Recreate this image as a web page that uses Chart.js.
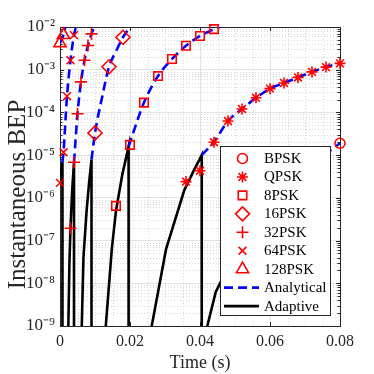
<!DOCTYPE html>
<html>
<head>
<meta charset="utf-8">
<script src="https://cdn.jsdelivr.net/npm/chart.js@4.4.1/dist/chart.umd.min.js"></script>
<style>
  html, body { margin: 0; padding: 0; background: #fff; }
</style>
</head>
<body>
<canvas id="bep" width="374" height="374"></canvas>
<script>
// axis ticks
const xTicks = [0, 0.02, 0.04, 0.06, 0.08]
const xTickLabels = ['0', '0.02', '0.04', '0.06', '0.08']
const yTicks = [1e-9, 1e-8, 1e-7, 1e-6, 1e-5, 1e-4, 1e-3, 1e-2]
const yTickLabels = ['10⁻⁹', '10⁻⁸', '10⁻⁷', '10⁻⁶', '10⁻⁵', '10⁻⁴', '10⁻³', '10⁻²']
const yTitle = 'Instantaneous BEP'

// simulated BEP markers (time in s)
const bpskT = [0.08]
const bpskSim = [1.9e-5]
const qpskT = [0.036, 0.040, 0.044, 0.048, 0.052, 0.056, 0.060, 0.064, 0.068, 0.072, 0.076, 0.080]
const qpskSim = [2.4e-6, 4.3e-6, 2.0e-5, 6.3e-5, 1.2e-4, 2.2e-4, 3.6e-4, 4.9e-4, 6.6e-4, 8.9e-4, 1.15e-3, 1.41e-3]
const psk8T = [0.016, 0.020, 0.024, 0.028, 0.032, 0.036, 0.040, 0.044]
const psk8Sim = [6.5e-7, 1.74e-5, 1.7e-4, 7.1e-4, 1.78e-3, 3.63e-3, 6.17e-3, 8.9e-3]
const psk16T = [0.010, 0.014, 0.018]
const psk16Sim = [3.3e-5, 1.17e-3, 5.75e-3]
const psk32T = [0.003, 0.004, 0.005, 0.006, 0.007, 0.008, 0.009]
const psk32Sim = [1.95e-7, 6.8e-6, 9.3e-5, 5.2e-4, 1.66e-3, 3.7e-3, 6.9e-3]
const psk64T = [0, 0.001, 0.002, 0.003, 0.004]
const psk64Sim = [2.24e-6, 1.17e-5, 2.4e-4, 1.66e-3, 6.45e-3]
const psk128T = [0, 0.001]
const psk128Sim = [4.2e-3, 6.5e-3]

// analytical curves, shown above the switching point
const an128T = [0, 0.001, 0.0016]
const an128 = [4.2e-3, 6.5e-3, 1.1e-2]
const an64T = [0.0007, 0.001, 0.002, 0.003, 0.004, 0.0047]
const an64 = [6.8e-6, 1.17e-5, 2.4e-4, 1.66e-3, 6.45e-3, 1.1e-2]
const an32T = [0.004, 0.005, 0.006, 0.007, 0.008, 0.009, 0.0099]
const an32 = [6.8e-6, 9.3e-5, 5.2e-4, 1.66e-3, 3.7e-3, 6.9e-3, 1.05e-2]
const an16T = [0.009, 0.010, 0.012, 0.014, 0.016, 0.018, 0.0202]
const an16 = [7.9e-6, 3.3e-5, 2.2e-4, 1.17e-3, 2.7e-3, 5.75e-3, 1.05e-2]
const an8T = [0.0196, 0.024, 0.028, 0.032, 0.036, 0.040, 0.044, 0.0465]
const an8 = [1.6e-5, 1.7e-4, 7.1e-4, 1.78e-3, 3.63e-3, 6.17e-3, 8.9e-3, 1.08e-2]
const anQT = [0.0405, 0.044, 0.048, 0.052, 0.056, 0.060, 0.064, 0.068, 0.072, 0.076, 0.080]
const anQ = [1.0e-5, 2.04e-5, 6.3e-5, 1.2e-4, 2.2e-4, 3.6e-4, 4.9e-4, 6.6e-4, 8.9e-4, 1.15e-3, 1.41e-3]
const anBT = [0.0755, 0.080]
const anB = [1.0e-5, 1.9e-5]

// adaptive scheme, null = gap between modulation switches
const adaptiveT = [
  0, 0.0007, 0.0007, 0.0007,
  0.0023, 0.0027, 0.0030, 0.0035, 0.0040, 0.0040, 0.0040,
  0.0061, 0.0067, 0.0076, 0.0083, 0.0090, 0.0090, 0.0090,
  0.0127, 0.0148, 0.0160, 0.0178, 0.0196, 0.0196, 0.0196,
  0.0253, 0.0303, 0.0355, 0.0380, 0.0405, 0.0405, 0.0405,
  0.0406, 0.0445, 0.050, 0.060, 0.070, 0.0755
]
const adaptiveBep = [
  2.24e-6, 6.8e-6, 1e-13, null,
  4e-10, 3.2e-8, 2e-7, 1.6e-6, 6.8e-6, 1e-13, null,
  4e-10, 4e-8, 5e-7, 2.2e-6, 7.9e-6, 1e-13, null,
  4e-10, 6.3e-8, 5e-7, 3.5e-6, 1.6e-5, 1e-13, null,
  4e-10, 6.3e-8, 1.5e-6, 4e-6, 1e-5, 1e-13, null,
  3.2e-10, 6.3e-9, 5e-8, 7.9e-7, 4.5e-6, 1e-5
]

const SERIF = "'Liberation Serif', 'Times New Roman', serif"
const AXIS_COLOR = '#262626'
const RED = '#ff0000'

const toPoints = (ts, vs) => ts.map((t, i) => ({ x: t, y: vs[i] }))

function markerSet (label, ts, vs, style, radius) {
  return {
    label: label,
    data: toPoints(ts, vs),
    showLine: false,
    pointStyle: style,
    pointRadius: radius,
    pointBorderColor: RED,
    pointBackgroundColor: 'rgba(0,0,0,0)',
    pointBorderWidth: 1.6,
    clip: false
  }
}

function analyticalSet (ts, vs) {
  return {
    label: 'Analytical',
    data: toPoints(ts, vs),
    borderColor: '#0000ff',
    borderWidth: 2.6,
    borderDash: [9, 5],
    pointRadius: 0,
    cubicInterpolationMode: 'monotone',
    clip: 0
  }
}

const markerSets = [
  markerSet('BPSK', bpskT, bpskSim, 'circle', 5),
  markerSet('QPSK', qpskT, qpskSim, 'star', 5.5),
  markerSet('8PSK', psk8T, psk8Sim, 'rect', 6),
  markerSet('16PSK', psk16T, psk16Sim, 'rectRot', 7),
  markerSet('32PSK', psk32T, psk32Sim, 'cross', 6),
  markerSet('64PSK', psk64T, psk64Sim, 'crossRot', 5.5),
  markerSet('128PSK', psk128T, psk128Sim, 'triangle', 7)
]

const adaptiveSet = {
  label: 'Adaptive',
  data: toPoints(adaptiveT, adaptiveBep),
  borderColor: '#000000',
  borderWidth: 2.6,
  pointRadius: 0,
  tension: 0,
  spanGaps: false,
  clip: 0
}

const datasets = [
  ...markerSets,
  analyticalSet(an128T, an128),
  analyticalSet(an64T, an64),
  analyticalSet(an32T, an32),
  analyticalSet(an16T, an16),
  analyticalSet(an8T, an8),
  analyticalSet(anQT, anQ),
  analyticalSet(anBT, anB),
  adaptiveSet
]

// MATLAB like box, minor grid and inward ticks
const matlabFrame = {
  id: 'matlabFrame',
  beforeDatasetsDraw (chart) {
    const { ctx, chartArea: a } = chart
    const xs = chart.scales.x
    const ys = chart.scales.y
    ctx.save()
    // minor grid, dotted
    ctx.strokeStyle = '#d8d8d8'
    ctx.lineWidth = 1
    ctx.setLineDash([1, 2])
    for (let e = -9; e < -2; e++) {
      for (let k = 2; k < 10; k++) {
        const py = Math.round(ys.getPixelForValue(k * Math.pow(10, e))) + 0.5
        ctx.beginPath(); ctx.moveTo(a.left, py); ctx.lineTo(a.right, py); ctx.stroke()
      }
    }
    for (let i = 1; i < 16; i++) {
      if (i % 4 === 0) continue
      const px = Math.round(xs.getPixelForValue(i * 0.005)) + 0.5
      ctx.beginPath(); ctx.moveTo(px, a.top); ctx.lineTo(px, a.bottom); ctx.stroke()
    }
    ctx.setLineDash([])
    // ticks
    ctx.strokeStyle = AXIS_COLOR
    for (let e = -9; e < -1; e++) {
      for (let k = 1; k < 10; k++) {
        if (e === -2 && k > 1) break
        const len = k === 1 ? 4 : 2.5
        const py = Math.round(ys.getPixelForValue(k * Math.pow(10, e))) + 0.5
        ctx.beginPath()
        ctx.moveTo(a.left, py); ctx.lineTo(a.left + len, py)
        ctx.moveTo(a.right, py); ctx.lineTo(a.right - len, py)
        ctx.stroke()
      }
    }
    xTicks.forEach(v => {
      const px = Math.round(xs.getPixelForValue(v)) + 0.5
      ctx.beginPath()
      ctx.moveTo(px, a.bottom); ctx.lineTo(px, a.bottom - 4)
      ctx.moveTo(px, a.top); ctx.lineTo(px, a.top + 4)
      ctx.stroke()
    })
    // box
    ctx.strokeRect(Math.round(a.left) + 0.5, Math.round(a.top) + 0.5, Math.round(a.right - a.left), Math.round(a.bottom - a.top))
    ctx.restore()
  },
  afterDraw (chart) {
    // y label sits a little below the axis centre in the original
    const ctx = chart.ctx
    const a = chart.chartArea
    ctx.save()
    ctx.translate(18, (a.top + a.bottom) / 2 + 18)
    ctx.rotate(-Math.PI / 2)
    ctx.font = '25px ' + SERIF
    ctx.fillStyle = AXIS_COLOR
    ctx.textAlign = 'center'
    ctx.textBaseline = 'middle'
    ctx.fillText(yTitle, 0, 0)
    ctx.restore()
  }
}

// legend box in the lower right corner of the axes
const bepLegend = {
  id: 'bepLegend',
  afterDraw (chart) {
    const ctx = chart.ctx
    const a = chart.chartArea
    const boxW = 110
    const boxH = 169
    const bx = Math.round(a.right - 10 - boxW) + 0.5
    const by = Math.round(a.bottom - 11 - boxH) + 0.5
    const rowH = 18.45
    const symX = bx + 22
    const textX = bx + 43.5
    ctx.save()
    ctx.fillStyle = '#ffffff'
    ctx.fillRect(bx, by, boxW, boxH)
    ctx.strokeStyle = AXIS_COLOR
    ctx.lineWidth = 1
    ctx.strokeRect(bx, by, boxW, boxH)
    ctx.font = '15px ' + SERIF
    ctx.textBaseline = 'middle'
    ctx.textAlign = 'left'
    const rows = [...markerSets, datasets[markerSets.length], adaptiveSet]
    rows.forEach((ds, i) => {
      const cy = by + 12 + i * rowH
      ctx.save()
      if (ds.showLine === false) {
        ctx.strokeStyle = ds.pointBorderColor
        ctx.fillStyle = 'rgba(0,0,0,0)'
        ctx.lineWidth = ds.pointBorderWidth
        if (Chart.helpers && Chart.helpers.drawPoint) {
          Chart.helpers.drawPoint(ctx, { pointStyle: ds.pointStyle, radius: ds.pointRadius, borderWidth: ds.pointBorderWidth, rotation: 0 }, symX, cy)
        }
      } else {
        ctx.strokeStyle = ds.borderColor
        ctx.lineWidth = ds.borderWidth
        ctx.setLineDash(ds.borderDash || [])
        ctx.beginPath(); ctx.moveTo(bx + 3.5, cy); ctx.lineTo(bx + 38.5, cy); ctx.stroke()
      }
      ctx.restore()
      ctx.fillStyle = '#000000'
      ctx.fillText(ds.label, textX, cy + 0.5)
    })
    ctx.restore()
  }
}

new Chart(document.getElementById('bep'), {
  type: 'line',
  data: { datasets: datasets },
  options: {
    responsive: false,
    animation: false,
    devicePixelRatio: 1,
    layout: { padding: { top: 27, right: 34, left: 0, bottom: 0 } },
    plugins: {
      legend: { display: false },
      tooltip: { enabled: false }
    },
    scales: {
      x: {
        type: 'linear',
        min: 0,
        max: 0.08,
        afterBuildTicks: s => { s.ticks = xTicks.map(v => ({ value: v })) },
        afterFit: s => { s.height = 48 },
        ticks: {
          callback: (v, i) => xTickLabels[i],
          font: { family: SERIF, size: 16 },
          color: AXIS_COLOR,
          padding: 6,
          maxRotation: 0,
          autoSkip: false
        },
        grid: { color: '#e2e2e2', drawTicks: false },
        border: { display: false },
        title: {
          display: true,
          text: 'Time (s)',
          font: { family: SERIF, size: 18 },
          color: AXIS_COLOR,
          padding: { top: 0, bottom: 0 }
        }
      },
      y: {
        type: 'logarithmic',
        min: 1e-9,
        max: 1e-2,
        afterBuildTicks: s => { s.ticks = yTicks.map(v => ({ value: v })) },
        afterFit: s => { s.width = 60 },
        ticks: {
          callback: (v, i) => yTickLabels[i],
          font: { family: SERIF, size: 17 },
          color: AXIS_COLOR,
          padding: 5,
          autoSkip: false
        },
        grid: { color: '#e2e2e2', drawTicks: false },
        border: { display: false }
      }
    }
  },
  plugins: [matlabFrame, bepLegend]
})
</script>
</body>
</html>
